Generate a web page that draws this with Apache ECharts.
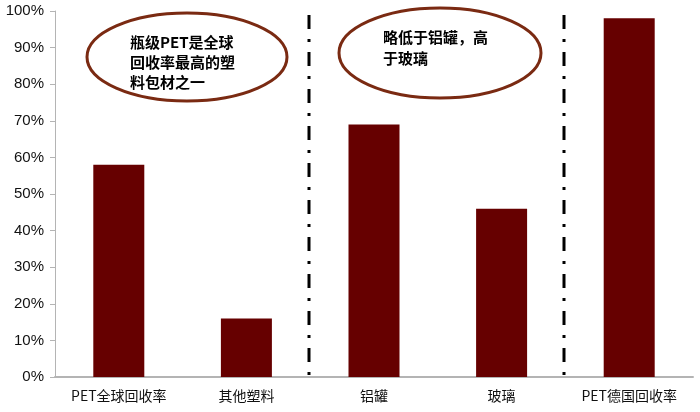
<!DOCTYPE html>
<html><head><meta charset="utf-8">
<script src="https://cdn.jsdelivr.net/npm/echarts@6/dist/echarts.min.js"></script>
<style>html,body{margin:0;padding:0;background:#fff}#c{width:700px;height:412px}</style>
</head><body><div id="c"></div>
<script>
var categories = ['PET全球回收率', '其他塑料', '铝罐', '玻璃', 'PET德国回收率'];
var values = [58, 16, 69, 46, 98];
var yTicks = [0, 10, 20, 30, 40, 50, 60, 70, 80, 90, 100];
var dividerPositions = [1.5, 3.5];
var note1 = '瓶级PET是全球\n回收率最高的塑\n料包材之一';
var note2 = '略低于铝罐，高\n于玻璃';

var chart = echarts.init(document.getElementById('c'));
var FONT = '"Noto Sans CJK SC", "Liberation Sans", Arial, sans-serif';
chart.setOption({
  animation: false,
  grid: {left: 55, right: 7, top: 11, bottom: 35},
  xAxis: {
    type: 'category', data: categories,
    axisLine: {lineStyle: {color: '#b4b4b4', width: 2}},
    axisTick: {show: false},
    axisLabel: {color: '#111', fontSize: 14, fontFamily: FONT, margin: 12}
  },
  yAxis: {
    type: 'value', min: yTicks[0], max: yTicks[yTicks.length - 1], interval: 10,
    axisLine: {show: true, lineStyle: {color: '#b4b4b4', width: 1}},
    axisTick: {show: true, length: 5, inside: false, lineStyle: {color: '#b4b4b4'}},
    splitLine: {show: false},
    axisLabel: {color: '#111', fontSize: 15, fontFamily: '"Liberation Sans", Arial, sans-serif', margin: 11,
      formatter: function (v) { return v + '%'; }}
  },
  series: [{
    type: 'bar', data: values, barWidth: 51,
    itemStyle: {color: '#660000'}
  }]
});

function drawOverlay() {
  var g = [];
  var top = 15, bottom = 378;
  dividerPositions.forEach(function (p) {
    var a = chart.convertToPixel({xAxisIndex: 0}, categories[Math.floor(p)]);
    var b = chart.convertToPixel({xAxisIndex: 0}, categories[Math.ceil(p)]);
    var x = Math.round((a + b) / 2) - 1;
    g.push({
      type: 'line', shape: {x1: x, y1: top, x2: x, y2: bottom},
      style: {stroke: '#000', lineWidth: 3, lineDash: [14, 10, 3, 10]}, z: 10
    });
  });
  g.push({type: 'ellipse', shape: {cx: 187, cy: 57, rx: 100, ry: 44},
    style: {fill: '#fff', stroke: '#7a2a12', lineWidth: 3}, z: 20});
  g.push({type: 'text', left: 130, top: 32, z: 21,
    style: {text: note1, fill: '#000', font: 'bold 15px ' + FONT, lineHeight: 20}});
  g.push({type: 'ellipse', shape: {cx: 440, cy: 53, rx: 101, ry: 45},
    style: {fill: '#fff', stroke: '#7a2a12', lineWidth: 3}, z: 20});
  g.push({type: 'text', left: 383, top: 27, z: 21,
    style: {text: note2, fill: '#000', font: 'bold 15px ' + FONT, lineHeight: 21}});
  chart.setOption({graphic: g});
}
drawOverlay();
</script></body></html>
